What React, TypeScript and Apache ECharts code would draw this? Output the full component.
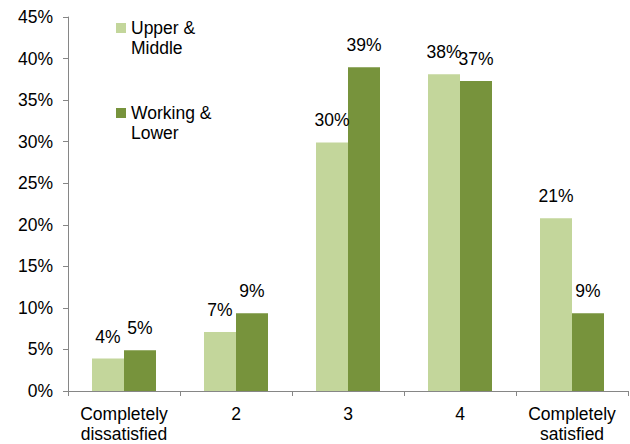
import React, { useEffect, useRef } from "react";
import * as echarts from "echarts";

const categories = ["Completely\ndissatisfied", "2", "3", "4", "Completely\nsatisfied"];
const upperMiddle = [3.9, 7.1, 29.9, 38.1, 20.8];
const workingLower = [4.9, 9.35, 38.95, 37.3, 9.35];
const seriesNames = ["Upper &\nMiddle", "Working &\nLower"];
const yMin = 0;
const yMax = 45;
const yInterval = 5;

const FONT = "'Liberation Sans', Arial, sans-serif";
const FS = 17.5;

export default function App() {
  const ref = useRef<HTMLDivElement>(null);
  useEffect(() => {
    document.body.style.margin = "0";
    if (!ref.current) return;
    const chart = echarts.init(ref.current, null, { renderer: "svg" });
    const labelCfg = {
      show: true,
      position: "top",
      distance: 13,
      fontFamily: FONT,
      fontSize: FS,
      color: "#000",
      formatter: (p: any) => Math.round(p.value) + "%",
    };
    chart.setOption({
      animation: false,
      backgroundColor: "#fff",
      textStyle: { fontFamily: FONT },
      grid: { left: 68, right: 2, top: 17, bottom: 53, containLabel: false },
      legend: {
        orient: "vertical",
        left: 111,
        top: 13,
        itemWidth: 10,
        itemHeight: 30,
        itemGap: 45,
        icon: "path://M0,0H10V10H0Z M0,30L0.001,30",
        textStyle: { fontFamily: FONT, fontSize: FS, color: "#000", lineHeight: 20 },
        data: seriesNames,
      },
      xAxis: {
        type: "category",
        data: categories,
        axisLine: { lineStyle: { color: "#868686", width: 1 } },
        axisTick: { show: true, alignWithLabel: false, length: 5, lineStyle: { color: "#868686" } },
        axisLabel: { fontFamily: FONT, fontSize: FS, color: "#000", lineHeight: 20, margin: 13, interval: 0 },
      },
      yAxis: {
        type: "value",
        min: yMin,
        max: yMax,
        interval: yInterval,
        splitLine: { show: false },
        axisLine: { show: true, lineStyle: { color: "#868686", width: 1 } },
        axisTick: { show: true, length: 5, lineStyle: { color: "#868686" } },
        axisLabel: { fontFamily: FONT, fontSize: FS, color: "#000", margin: 15, formatter: "{value}%" },
      },
      series: [
        {
          name: seriesNames[0],
          type: "bar",
          data: upperMiddle,
          barWidth: 32,
          barGap: "0%",
          itemStyle: { color: "#C3D69B" },
          label: labelCfg,
        },
        {
          name: seriesNames[1],
          type: "bar",
          data: workingLower,
          barWidth: 32,
          barGap: "0%",
          itemStyle: { color: "#77933C" },
          label: labelCfg,
        },
      ],
    });
    return () => chart.dispose();
  }, []);
  return <div ref={ref} style={{ width: 630, height: 444 }} />;
}
